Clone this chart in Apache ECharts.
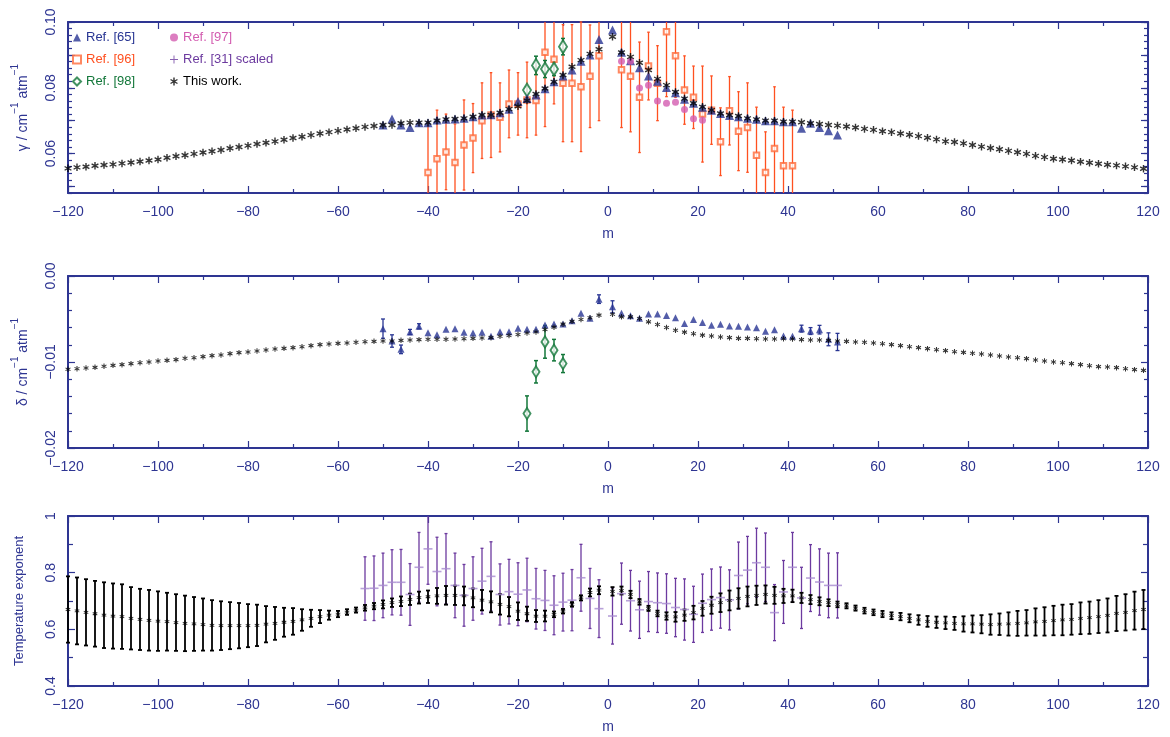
<!DOCTYPE html>
<html>
<head>
<meta charset="utf-8">
<script src="https://cdn.jsdelivr.net/npm/echarts@6/dist/echarts.min.js"></script>
<style>html,body{margin:0;padding:0;background:#fff;}#c{width:1170px;height:737px;}</style>
</head>
<body>
<div id="c"></div>
<script>
// ---------------- DATA ----------------
const mWork = [-120,-118,-116,-114,-112,-110,-108,-106,-104,-102,-100,-98,-96,-94,-92,-90,-88,-86,-84,-82,-80,-78,-76,-74,-72,-70,-68,-66,-64,-62,-60,-58,-56,-54,-52,-50,-48,-46,-44,-42,-40,-38,-36,-34,-32,-30,-28,-26,-24,-22,-20,-18,-16,-14,-12,-10,-8,-6,-4,-2,
  1,3,5,7,9,11,13,15,17,19,21,23,25,27,29,31,33,35,37,39,41,43,45,47,49,51,53,55,57,59,61,63,65,67,69,71,73,75,77,79,81,83,85,87,89,91,93,95,97,99,101,103,105,107,109,111,113,115,117,119];
const gammaWork = [0.0555,0.0558,0.0560,0.0563,0.0565,0.0567,0.0570,0.0573,0.0576,0.0579,
  0.0582,0.0587,0.0592,0.0595,0.0599,0.0603,0.0607,0.0611,0.0616,0.0620,
  0.0624,0.0629,0.0633,0.0637,0.0642,0.0647,0.0651,0.0656,0.0661,0.0665,
  0.0669,0.0673,0.0677,0.0681,0.0684,0.0687,0.0687,0.0692,0.0694,0.0694,
  0.0694,0.0700,0.0704,0.0705,0.0707,0.0712,0.0717,0.0717,0.0724,0.0735,
  0.0744,0.0761,0.0781,0.0798,0.0818,0.0839,0.0864,0.0884,0.0903,0.0917,
  0.0955,0.0907,0.0894,0.0876,0.0854,0.0827,0.0808,0.0787,0.0767,0.0753,
  0.0742,0.0732,0.0722,0.0717,0.0714,0.0707,0.0704,0.0700,0.0700,0.0697,
  0.0697,0.0695,0.0692,0.0690,0.0687,0.0685,0.0682,0.0679,0.0675,0.0672,
  0.0668,0.0665,0.0661,0.0657,0.0653,0.0648,0.0643,0.0637,0.0635,0.0631,
  0.0626,0.0621,0.0617,0.0613,0.0608,0.0604,0.0599,0.0593,0.0589,0.0584,
  0.0582,0.0579,0.0575,0.0572,0.0569,0.0566,0.0564,0.0561,0.0558,0.0554];
const deltaWork = [-0.01085,-0.01078,-0.01070,-0.01062,-0.01050,-0.01039,-0.01031,-0.01019,-0.01008,-0.01000,
  -0.00988,-0.00981,-0.00973,-0.00957,-0.00950,-0.00938,-0.00926,-0.00919,-0.00903,-0.00891,
  -0.00884,-0.00872,-0.00860,-0.00849,-0.00841,-0.00833,-0.00822,-0.00810,-0.00798,-0.00791,
  -0.00783,-0.00779,-0.00771,-0.00764,-0.00760,-0.00756,-0.00756,-0.00748,-0.00744,-0.00740,
  -0.00736,-0.00736,-0.00736,-0.00733,-0.00729,-0.00725,-0.00721,-0.00717,-0.00700,-0.00692,
  -0.00680,-0.00662,-0.00651,-0.00622,-0.00595,-0.00560,-0.00527,-0.00505,-0.00485,-0.00455,
  -0.00444,-0.00475,-0.00475,-0.00494,-0.00533,-0.00564,-0.00599,-0.00630,-0.00653,-0.00672,
  -0.00688,-0.00698,-0.00709,-0.00717,-0.00725,-0.00725,-0.00729,-0.00733,-0.00733,-0.00729,
  -0.00733,-0.00740,-0.00744,-0.00744,-0.00748,-0.00756,-0.00760,-0.00767,-0.00771,-0.00779,
  -0.00787,-0.00798,-0.00810,-0.00822,-0.00833,-0.00845,-0.00857,-0.00868,-0.00880,-0.00888,
  -0.00899,-0.00907,-0.00919,-0.00930,-0.00942,-0.00950,-0.00961,-0.00977,-0.00988,-0.01000,
  -0.01008,-0.01019,-0.01031,-0.01043,-0.01054,-0.01058,-0.01066,-0.01078,-0.01089,-0.01097];
const nWork = [0.670,0.665,0.660,0.655,0.650,0.647,0.645,0.639,0.635,0.632,
  0.629,0.627,0.624,0.621,0.619,0.617,0.614,0.613,0.613,0.613,
  0.613,0.614,0.618,0.621,0.625,0.628,0.633,0.639,0.645,0.650,
  0.654,0.661,0.668,0.676,0.682,0.688,0.694,0.699,0.706,0.712,
  0.715,0.718,0.720,0.720,0.718,0.711,0.703,0.697,0.688,0.680,
  0.664,0.655,0.647,0.647,0.653,0.664,0.688,0.711,0.730,0.738,
  0.734,0.737,0.723,0.697,0.674,0.656,0.647,0.644,0.650,0.659,
  0.674,0.685,0.694,0.702,0.709,0.716,0.720,0.723,0.720,0.718,
  0.718,0.711,0.705,0.699,0.694,0.688,0.683,0.675,0.666,0.660,
  0.654,0.648,0.645,0.639,0.633,0.628,0.625,0.623,0.621,0.619,
  0.619,0.618,0.617,0.618,0.619,0.621,0.623,0.626,0.628,0.631,
  0.633,0.635,0.639,0.641,0.645,0.649,0.656,0.660,0.666,0.670];
const nWorkErr = [0.117,0.118,0.117,0.116,0.116,0.115,0.114,0.110,0.108,0.107,
  0.105,0.102,0.100,0.098,0.095,0.092,0.089,0.086,0.083,0.080,
  0.076,0.073,0.064,0.058,0.051,0.047,0.038,0.030,0.023,0.016,
  0.011,0.010,0.009,0.010,0.011,0.014,0.015,0.017,0.020,0.021,
  0.022,0.028,0.033,0.034,0.033,0.033,0.036,0.037,0.036,0.034,
  0.031,0.025,0.021,0.019,0.010,0.008,0.008,0.009,0.014,0.014,
  0.015,0.014,0.013,0.010,0.009,0.010,0.013,0.017,0.020,0.024,
  0.026,0.030,0.033,0.035,0.036,0.035,0.034,0.032,0.030,0.025,
  0.022,0.018,0.016,0.014,0.012,0.010,0.009,0.009,0.010,0.010,
  0.011,0.012,0.013,0.014,0.017,0.019,0.020,0.022,0.023,0.027,
  0.030,0.032,0.036,0.038,0.041,0.044,0.045,0.048,0.050,0.052,
  0.054,0.054,0.056,0.057,0.058,0.060,0.062,0.064,0.067,0.069];

const m65 = [-50,-48,-46,-44,-42,-40,-38,-36,-34,-32,-30,-28,-26,-24,-22,-20,-18,-16,-14,-12,-10,-8,-6,-4,-2,
  1,3,5,7,9,11,13,15,17,19,21,23,25,27,29,31,33,35,37,39,41,43,45,47,49,51];
const gamma65 = [0.0687,0.0705,0.0687,0.0679,0.0694,0.0694,0.0702,0.0704,0.0705,0.0707,0.0712,0.0717,0.0718,0.0724,0.0735,0.0758,0.0767,0.0778,0.0797,0.0818,0.0836,0.0854,0.0881,0.0900,0.0947,
  0.0976,0.0908,0.0882,0.0861,0.0836,0.0820,0.0801,0.0785,0.0765,0.0753,0.0741,0.0732,0.0722,0.0716,0.0712,0.0707,0.0704,0.0700,0.0700,0.0697,0.0697,0.0677,0.0692,0.0679,0.0669,0.0656];
const delta65 = [-0.00612,-0.00756,-0.00853,-0.00651,-0.00585,-0.00659,-0.00682,-0.00620,-0.00612,-0.00655,-0.00663,-0.00655,-0.00702,-0.00647,-0.00647,-0.00609,-0.00620,-0.00620,-0.00570,-0.00558,-0.00558,-0.00519,-0.00434,-0.00490,-0.00269,
  -0.00358,-0.00434,-0.00461,-0.00490,-0.00442,-0.00442,-0.00459,-0.00486,-0.00552,-0.00506,-0.00541,-0.00572,-0.00562,-0.00581,-0.00585,-0.00593,-0.00601,-0.00643,-0.00624,-0.00698,-0.00702,-0.00612,-0.00640,-0.00624,-0.00736,-0.00767];
const delta65Err = [0.00112,0.00072,0.0005,0.0003,0.0003,0,0,0,0,0,0,0,0,0,0,0,0,0,0,0,0,0,0,0,0.0005,
  0.0007,0,0,0,0,0,0,0,0,0,0,0,0,0,0,0,0,0,0,0,0,0.0004,0.0004,0.0005,0.00075,0.001];

const m96 = [-40,-38,-36,-34,-32,-30,-28,-26,-24,-22,-20,-18,-16,-14,-12,-10,-8,-6,-4,-2,3,5,7,9,11,13,15,17,19,21,23,25,27,29,31,33,35,37,39,41];
const gamma96 = [0.0542,0.0584,0.0605,0.0573,0.0626,0.0647,0.0700,0.0717,0.0710,0.0751,0.0751,0.0763,0.0761,0.0908,0.0887,0.0814,0.0814,0.0803,0.0835,0.0897,0.0855,0.0835,0.0771,0.0866,0.0814,0.0970,0.0897,0.0793,0.0771,0.0720,0.0732,0.0636,0.0730,0.0668,0.0679,0.0595,0.0542,0.0615,0.0563,0.0563];
const gamma96Err = [0.0155,0.0148,0.0115,0.0117,0.0137,0.0105,0.0115,0.0129,0.0105,0.0103,0.0095,0.0115,0.0105,0.0226,0.0136,0.0178,0.0178,0.0197,0.0156,0.0197,0.0176,0.0169,0.0168,0.0103,0.0114,0.0197,0.0126,0.0104,0.0095,0.0146,0.0104,0.0103,0.0104,0.0120,0.0136,0.0146,0.0124,0.0188,0.0178,0.0169];

const m98 = [-18,-16,-14,-12,-10];
const gamma98 = [0.0793,0.0868,0.0857,0.0857,0.0925];
const gamma98Err = [0.0010,0.0028,0.0026,0.0020,0.0025];
const delta98 = [-0.01599,-0.01114,-0.00766,-0.00862,-0.01018];
const delta98Err = [0.00205,0.0013,0.0019,0.00125,0.00105];

const m97 = [3,5,7,9,11,13,15,17,19,21];
const gamma97 = [0.0881,0.0881,0.0799,0.0808,0.0760,0.0753,0.0756,0.0734,0.0706,0.0701];

const m31 = [-54,-52,-50,-48,-46,-44,-42,-40,-38,-36,-34,-32,-30,-28,-26,-24,-22,-20,-18,-16,-14,-12,-10,-8,-6,-4,-2,
  1,3,5,7,9,11,13,15,17,19,21,23,25,27,29,31,33,35,37,39,41,43,45,47,49,51];
const n31 = [0.744,0.745,0.755,0.766,0.766,0.723,0.819,0.884,0.804,0.814,0.755,0.720,0.744,0.770,0.787,0.723,0.733,0.724,0.739,0.708,0.702,0.685,0.696,0.703,0.782,0.709,0.673,
  0.647,0.726,0.701,0.669,0.698,0.694,0.691,0.677,0.670,0.653,0.692,0.705,0.712,0.704,0.790,0.809,0.835,0.819,0.659,0.732,0.819,0.711,0.781,0.767,0.755,0.755];
const n31Err = [0.112,0.114,0.114,0.115,0.116,0.109,0.123,0.125,0.121,0.124,0.114,0.109,0.112,0.116,0.122,0.108,0.114,0.111,0.112,0.107,0.106,0.104,0.102,0.108,0.118,0.106,0.102,
  0.099,0.108,0.107,0.101,0.106,0.105,0.105,0.103,0.108,0.099,0.103,0.108,0.108,0.106,0.118,0.119,0.122,0.121,0.099,0.111,0.123,0.108,0.118,0.117,0.114,0.115];

const xTicks = {min: -120, max: 120, interval: 20};
const gammaLabels = [0.06, 0.08, 0.10];
const gammaMajorTicks = [0.05, 0.06, 0.07, 0.08, 0.09, 0.10];

// ---------------- STYLE ----------------
const FONT = "'Liberation Sans', Arial, Helvetica, sans-serif";
const AX = '#2e3592';
const C65 = '#283593', C96 = '#ff5020', C98 = '#13773a', C97 = '#d35cb0', C31 = '#6c3a9f', C31L = '#a68ad0', CW = '#000000';
const ASTER = 'path://M-0.9,-5L0.9,-5L0.9,5L-0.9,5Z M3.88,-3.28L4.78,-1.72L-3.88,3.28L-4.78,1.72Z M4.78,1.72L3.88,3.28L-4.78,-1.72L-3.88,-3.28Z';
const PLUS = 'path://M-0.6,-5L0.6,-5L0.6,-0.6L5,-0.6L5,0.6L0.6,0.6L0.6,5L-0.6,5L-0.6,0.6L-5,0.6L-5,-0.6L-0.6,-0.6Z';

const zip = (a, b) => a.map((v, i) => [v, b[i]]);
const errData = (ms, vals, errs) => ms.map((m, i) => [m, vals[i] - errs[i], vals[i] + errs[i]]);
const fmtX = v => v < 0 ? '\u2212' + (-v) : String(v);

function errRender(color, lw, cap) {
  return function (params, api) {
    const x = api.value(0), lo = api.value(1), hi = api.value(2);
    if (!(hi > lo)) return null;
    const cs = params.coordSys;
    const top = cs.y, bot = cs.y + cs.height;
    const a = api.coord([x, lo]), b = api.coord([x, hi]);
    const st = {stroke: color, lineWidth: lw};
    const y1 = Math.min(a[1], bot), y2 = Math.max(b[1], top);
    const ch = [{type: 'line', shape: {x1: a[0], y1: y1, x2: a[0], y2: y2}, style: st}];
    if (a[1] <= bot + 0.5) ch.push({type: 'line', shape: {x1: a[0] - cap, y1: a[1], x2: a[0] + cap, y2: a[1]}, style: st});
    if (b[1] >= top - 0.5) ch.push({type: 'line', shape: {x1: b[0] - cap, y1: b[1], x2: b[0] + cap, y2: b[1]}, style: st});
    return {type: 'group', children: ch};
  };
}
function errSeries(name, xi, yi, data, color, lw, cap) {
  return {name: name, type: 'custom', xAxisIndex: xi, yAxisIndex: yi, data: data,
    encode: {x: 0, y: [1, 2]}, renderItem: errRender(color, lw, cap), silent: true, z: 2};
}
function scat(name, xi, yi, data, symbol, size, itemStyle, z) {
  return {name: name, type: 'scatter', xAxisIndex: xi, yAxisIndex: yi, data: data, symbol: symbol,
    symbolSize: size, itemStyle: itemStyle, z: z || 3, silent: true};
}

const axLine = {show: true, onZero: false, lineStyle: {color: AX, width: 2}};
const noLine = {show: false, onZero: false};
function xPair(g) {
  const base = {type: 'value', gridIndex: g, min: xTicks.min, max: xTicks.max, interval: xTicks.interval,
    splitLine: {show: false}, axisLine: axLine,
    axisTick: {show: true, inside: true, length: 7, lineStyle: {color: AX, width: 1.2}},
    minorTick: {show: true, splitNumber: 2, length: 4, lineStyle: {color: AX, width: 1.2}}};
  return [
    Object.assign({}, base, {position: 'bottom',
      axisLabel: {show: true, color: AX, fontSize: 14, fontFamily: FONT, margin: 12, showMinLabel: true, showMaxLabel: true, formatter: fmtX},
      name: 'm', nameLocation: 'middle', nameGap: 34, nameTextStyle: {color: AX, fontSize: 14, fontFamily: FONT}}),
    Object.assign({}, base, {position: 'top', axisLabel: {show: false}})
  ];
}
const richName = {
  a: {fontSize: 14, color: AX, fontFamily: FONT, lineHeight: 20, verticalAlign: 'bottom'},
  s: {fontSize: 10, color: AX, fontFamily: FONT, lineHeight: 11, verticalAlign: 'top'}
};
const yLab = (fmt, extra) => Object.assign({show: true, color: AX, fontSize: 14, fontFamily: FONT, rotate: 90, margin: 10,
  showMinLabel: true, showMaxLabel: true, formatter: fmt}, extra || {});
const tick = (len) => ({show: true, inside: true, length: len, lineStyle: {color: AX, width: 1.2}});

const yAxes = [
  // 0 top-left (minor ticks + labels)
  {type: 'value', gridIndex: 0, position: 'left', min: 0.048, max: 0.1, interval: 0.002, splitLine: {show: false},
    axisLine: axLine, axisTick: tick(4),
    axisLabel: yLab(v => v.toFixed(2), {customValues: gammaLabels}),
    name: '{a|\u03b3 / cm}{s|\u22121}{a| atm}{s|\u22121}', nameLocation: 'middle', nameGap: 38,
    nameTextStyle: {color: AX, fontFamily: FONT, rich: richName}},
  // 1 top-right minor
  {type: 'value', gridIndex: 0, position: 'right', min: 0.048, max: 0.1, interval: 0.002, splitLine: {show: false},
    axisLine: axLine, axisTick: tick(4), axisLabel: {show: false}},
  // 2 top-left major
  {type: 'value', gridIndex: 0, position: 'left', min: 0.048, max: 0.1, splitLine: {show: false},
    axisLine: noLine, axisTick: Object.assign(tick(7), {customValues: gammaMajorTicks}), axisLabel: {show: false}},
  // 3 top-right major
  {type: 'value', gridIndex: 0, position: 'right', min: 0.048, max: 0.1, splitLine: {show: false},
    axisLine: noLine, axisTick: Object.assign(tick(7), {customValues: gammaMajorTicks}), axisLabel: {show: false}},
  // 4 mid-left
  {type: 'value', gridIndex: 1, position: 'left', min: -0.02, max: 0, interval: 0.01, splitLine: {show: false},
    axisLine: axLine, axisTick: tick(7),
    minorTick: {show: true, splitNumber: 5, length: 4, lineStyle: {color: AX, width: 1.2}},
    axisLabel: yLab(v => Math.abs(v) < 1e-9 ? '0.00' : '\u2212' + Math.abs(v).toFixed(2)),
    name: '{a|\u03b4 / cm}{s|\u22121}{a| atm}{s|\u22121}', nameLocation: 'middle', nameGap: 38,
    nameTextStyle: {color: AX, fontFamily: FONT, rich: richName}},
  // 5 mid-right
  {type: 'value', gridIndex: 1, position: 'right', min: -0.02, max: 0, interval: 0.01, splitLine: {show: false},
    axisLine: axLine, axisTick: tick(7),
    minorTick: {show: true, splitNumber: 5, length: 4, lineStyle: {color: AX, width: 1.2}}, axisLabel: {show: false}},
  // 6 bottom-left
  {type: 'value', gridIndex: 2, position: 'left', min: 0.4, max: 1, interval: 0.2, splitLine: {show: false},
    axisLine: axLine, axisTick: tick(7),
    minorTick: {show: true, splitNumber: 2, length: 5, lineStyle: {color: AX, width: 1.2}},
    axisLabel: yLab(v => Math.abs(v - 1) < 1e-9 ? '1' : v.toFixed(1)),
    name: 'Temperature exponent', nameLocation: 'middle', nameGap: 42,
    nameTextStyle: {color: AX, fontFamily: FONT, fontSize: 13}},
  // 7 bottom-right
  {type: 'value', gridIndex: 2, position: 'right', min: 0.4, max: 1, interval: 0.2, splitLine: {show: false},
    axisLine: axLine, axisTick: tick(7),
    minorTick: {show: true, splitNumber: 2, length: 5, lineStyle: {color: AX, width: 1.2}}, axisLabel: {show: false}}
];

const series = [
  // ---- gamma panel ----
  errSeries('e96', 0, 0, errData(m96, gamma96, gamma96Err), C96, 1.3, 1.3),
  scat('Ref. [96]', 0, 0, zip(m96, gamma96), 'emptyRect', 5.5, {color: '#ff6a3a', borderColor: '#ff6a3a', borderWidth: 1.2}),
  errSeries('e98', 0, 0, errData(m98, gamma98, gamma98Err), C98, 1.5, 2),
  scat('Ref. [98]', 0, 0, zip(m98, gamma98), 'emptyDiamond', [8, 13], {color: C98, borderColor: C98, borderWidth: 1.3}),
  scat('Ref. [65]', 0, 0, zip(m65, gamma65), 'triangle', 9, {color: C65}),
  scat('Ref. [97]', 0, 0, zip(m97, gamma97), 'circle', 7, {color: C97}),
  scat('This work.', 0, 0, zip(mWork, gammaWork), ASTER, 7.5, {color: CW}, 4),
  // ---- delta panel ----
  errSeries('e65d', 2, 4, errData(m65, delta65, delta65Err), C65, 1.3, 2),
  scat('Ref. [65]', 2, 4, zip(m65, delta65), 'triangle', 7, {color: C65}),
  errSeries('e98d', 2, 4, errData(m98, delta98, delta98Err), C98, 1.5, 2),
  scat('Ref. [98]', 2, 4, zip(m98, delta98), 'emptyDiamond', [7, 11], {color: C98, borderColor: C98, borderWidth: 1.2}),
  scat('This work.', 2, 4, zip(mWork, deltaWork), ASTER, 5.5, {color: CW}, 4),
  // ---- temperature exponent panel ----
  errSeries('e31', 4, 6, errData(m31, n31, n31Err), C31, 1.3, 1.5),
  scat('Ref. [31] scaled', 4, 6, zip(m31, n31), 'rect', [9, 1.6], {color: C31L}),
  errSeries('ew', 4, 6, errData(mWork, nWork, nWorkErr), CW, 1.8, 2),
  scat('This work.', 4, 6, zip(mWork, nWork), ASTER, 5, {color: CW}, 4)
];

const legendBase = {orient: 'vertical', top: 31, itemWidth: 8, itemHeight: 8, itemGap: 9, padding: 0,
  selectedMode: false, textStyle: {fontSize: 13, fontFamily: FONT}};
const option = {
  animation: false,
  backgroundColor: '#ffffff',
  grid: [
    {left: 68, right: 22, top: 22, height: 171, outerBoundsMode: 'none'},
    {left: 68, right: 22, top: 276, height: 172, outerBoundsMode: 'none'},
    {left: 68, right: 22, top: 516, height: 170, outerBoundsMode: 'none'}
  ],
  xAxis: [].concat(xPair(0), xPair(1), xPair(2)),
  yAxis: yAxes,
  legend: [
    Object.assign({}, legendBase, {left: 72, data: [
      {name: 'Ref. [65]', textStyle: {color: C65}},
      {name: 'Ref. [96]', textStyle: {color: C96}},
      {name: 'Ref. [98]', textStyle: {color: C98}}]}),
    Object.assign({}, legendBase, {left: 170, data: [
      {name: 'Ref. [97]', textStyle: {color: C97}},
      {name: 'Ref. [31] scaled', icon: PLUS, textStyle: {color: C31}, itemStyle: {color: C31}},
      {name: 'This work.', textStyle: {color: '#000'}}]})
  ],
  series: series
};
const chart = echarts.init(document.getElementById('c'), null, {renderer: 'canvas'});
chart.setOption(option);
</script>
</body>
</html>
